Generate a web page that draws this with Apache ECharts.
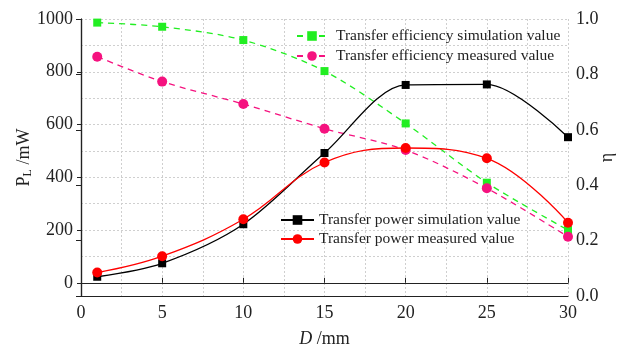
<!DOCTYPE html>
<html>
<head>
<meta charset="utf-8">
<script src="https://cdn.jsdelivr.net/npm/echarts@6/dist/echarts.min.js"></script>
<style>
  html, body { margin: 0; padding: 0; background: #fff; }
  #chart { width: 621px; height: 349px; }
</style>
</head>
<body>
<div id="chart"></div>
<script>
// distance D (mm)
var distance = [1, 5, 10, 15, 20, 25, 30];
// transfer power (mW), left axis
var powerSim = [23, 74, 222, 492, 750, 752, 552];
var powerMeas = [39, 101, 241, 456, 511, 472, 228];
// transfer efficiency, right axis
var effSim = [0.987, 0.972, 0.924, 0.812, 0.623, 0.409, 0.238];
var effMeas = [0.864, 0.774, 0.693, 0.604, 0.527, 0.389, 0.214];

// left axis ticks (labelled) and grid lines
var powerTicks = [0, 200, 400, 600, 800, 1000];
var powerGrid = [0, 100, 200, 300, 400, 500, 600, 700, 800, 900, 1000];

var names = [
    'Transfer efficiency simulation value',
    'Transfer efficiency measured value',
    'Transfer power simulation value',
    'Transfer power measured value'
];

function pairs(ys) {
    return distance.map(function (x, i) { return [x, ys[i]]; });
}

var font = 'Liberation Serif, Times New Roman, serif';
var gridColor = '#cfcfcf';

var chart = echarts.init(document.getElementById('chart'));

chart.setOption({
    animation: false,
    textStyle: { fontFamily: font, color: '#222' },
    grid: { left: 81, right: 53, top: 19, bottom: 53, outerBoundsMode: 'none', containLabel: false },
    legend: [
        {
            data: [names[0], names[1]],
            orient: 'vertical',
            left: 291, top: 23,
            itemWidth: 30, itemHeight: 12, itemGap: 4,
            textStyle: { fontFamily: font, fontSize: 15.5, color: '#222', padding: [0, 0, 0, 4] }
        },
        {
            data: [names[2], names[3]],
            orient: 'vertical',
            left: 275, top: 207,
            itemWidth: 33, itemHeight: 12, itemGap: 3,
            textStyle: { fontFamily: font, fontSize: 15.5, color: '#222' }
        }
    ],
    xAxis: [
        {
            type: 'value', min: 0, max: 30, interval: 5,
            name: '{i|D} /mm', nameLocation: 'middle', nameGap: 34, nameMoveOverlap: false,
            nameTextStyle: { fontFamily: font, fontSize: 18, color: '#222', rich: { i: { fontStyle: 'italic', fontFamily: font, fontSize: 18 } } },
            axisLine: { lineStyle: { color: '#222', width: 1.2 } },
            axisTick: { inside: true, length: 5, lineStyle: { color: '#222' } },
            axisLabel: { fontSize: 18, margin: 8, color: '#222' },
            splitLine: { show: true, lineStyle: { color: gridColor, type: [2, 2] } },
            minorTick: { show: false, splitNumber: 2 },
            minorSplitLine: { show: true, lineStyle: { color: gridColor, type: [2, 2] } }
        },
        {
            type: 'value', min: 0, max: 30, position: 'top',
            axisLine: { show: true, lineStyle: { color: '#222', width: 1.2 } },
            axisTick: { show: false }, axisLabel: { show: false }, splitLine: { show: false }
        }
    ],
    yAxis: [
        {
            type: 'value', min: -50, max: 1000,
            name: 'P{s|L} /mW', nameLocation: 'middle', nameGap: 47, nameRotate: 90, nameMoveOverlap: false,
            nameTextStyle: { fontFamily: font, fontSize: 18, color: '#222', rich: { s: { fontSize: 12, fontFamily: font, padding: [8, 0, 0, 0] } } },
            axisLine: { show: true, lineStyle: { color: '#222', width: 1.2 } },
            axisTick: { show: true, length: 4, customValues: powerTicks, lineStyle: { color: '#222' } },
            axisLabel: { fontSize: 18, margin: 8, color: '#222', customValues: powerTicks, formatter: function (v) { return String(v); } },
            splitLine: { show: false }
        },
        {
            type: 'value', min: 0, max: 1, interval: 0.2, position: 'right',
            name: 'η', nameLocation: 'middle', nameGap: 30, nameRotate: 90, nameMoveOverlap: false,
            nameTextStyle: { fontFamily: font, fontSize: 18, color: '#222' },
            axisLine: { show: true, lineStyle: { color: '#222', width: 1.2 } },
            axisTick: { inside: true, length: 5, lineStyle: { color: '#222' } },
            axisLabel: { fontSize: 18, margin: 8, color: '#222', formatter: function (v) { return v.toFixed(1); } },
            splitLine: { show: false }
        },
        {
            // grid lines every 100 mW
            type: 'value', min: -50, max: 1000, position: 'left',
            axisLine: { show: false },
            axisTick: { show: false, customValues: powerGrid },
            axisLabel: { show: false, customValues: powerGrid },
            splitLine: { show: true, lineStyle: { color: gridColor, type: [2, 2] } }
        }
    ],
    series: [
        {
            name: names[0], type: 'line', yAxisIndex: 1, data: pairs(effSim),
            smooth: 0.3, symbol: 'rect', symbolSize: 8, z: 3,
            itemStyle: { color: '#22ee22' },
            lineStyle: { color: '#22ee22', width: 1.3, type: [6, 5] }
        },
        {
            name: names[1], type: 'line', yAxisIndex: 1, data: pairs(effMeas),
            smooth: 0.3, symbol: 'circle', symbolSize: 10, z: 3,
            itemStyle: { color: '#f5127f' },
            lineStyle: { color: '#f5127f', width: 1.3, type: [6, 5] }
        },
        {
            name: names[2], type: 'line', yAxisIndex: 0, data: pairs(powerSim),
            smooth: 0.3, symbol: 'rect', symbolSize: 8, z: 4,
            itemStyle: { color: '#000' },
            lineStyle: { color: '#000', width: 1.3 }
        },
        {
            name: names[3], type: 'line', yAxisIndex: 0, data: pairs(powerMeas),
            smooth: 0.4, symbol: 'circle', symbolSize: 10, z: 4,
            itemStyle: { color: '#ff0000' },
            lineStyle: { color: '#ff0000', width: 1.3 }
        }
    ]
});
</script>
</body>
</html>
